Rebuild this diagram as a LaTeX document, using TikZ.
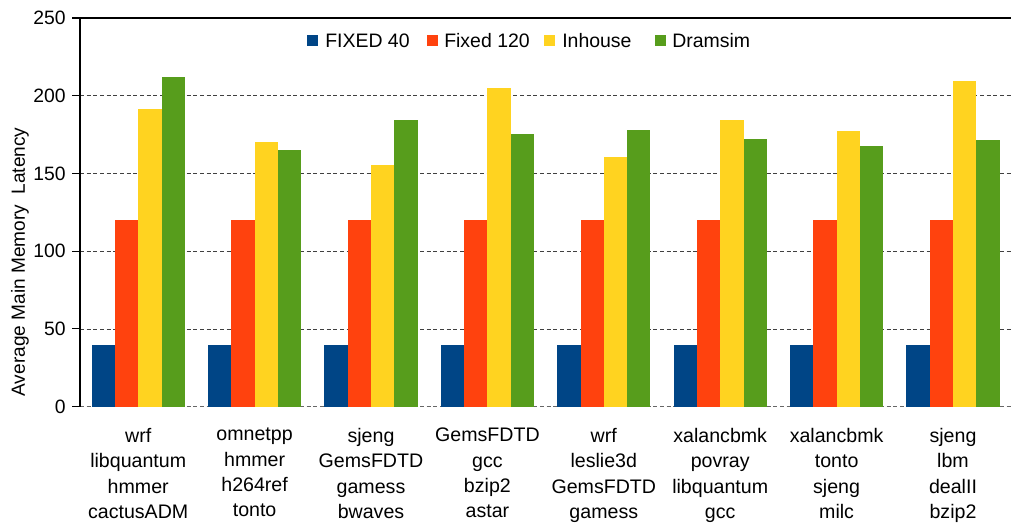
\documentclass[tikz,border=0pt]{standalone}
\usepackage{fontspec}
\setmainfont{Liberation Sans}
\definecolor{cA}{HTML}{004586}
\definecolor{cB}{HTML}{FF420E}
\definecolor{cC}{HTML}{FFD320}
\definecolor{cD}{HTML}{579D1C}
\begin{document}
\begin{tikzpicture}[x=0.75pt,y=-0.75pt,
  grid/.style={densely dashed,black!75,line width=0.5pt},
  ticklab/.style={anchor=east,font=\fontsize{14.5}{16}\selectfont,inner sep=0pt},
  catlab/.style={anchor=north,align=center,font=\fontsize{14.7}{19}\selectfont,inner sep=0pt},
  leglab/.style={anchor=west,font=\fontsize{14.6}{16}\selectfont,inner sep=0pt}]
\useasboundingbox (0,0) rectangle (1013,525);
\def\yv#1{406.7-1.5548*#1}
% grid
\foreach \v in {50,100,150,200}{
  \draw[grid] (80,{\yv{\v}}) -- (1011,{\yv{\v}});
}
\draw[densely dashed,black!60,line width=0.8pt] (80,406.7) -- (1011,406.7);
\draw[black,line width=0.8pt] (80,18) -- (1011,18);
% bars
\foreach \i/\c/\d in {0/191.6/212.3,1/170.3/165.2,2/155.4/184.4,3/205.1/175.5,4/160.7/177.9,5/184.6/172.2,6/177.5/167.8,7/209.6/171.6}{
  \pgfmathsetmacro{\xs}{91.6+116.4*\i}
  \fill[cA] (\xs,406.7) rectangle ({\xs+23.3},{\yv{40}});
  \fill[cB] ({\xs+23.3},406.7) rectangle ({\xs+46.6},{\yv{120}});
  \fill[cC] ({\xs+46.6},406.7) rectangle ({\xs+69.9},{\yv{\c}});
  \fill[cD] ({\xs+69.9},406.7) rectangle ({\xs+93.2},{\yv{\d}});
}
% axis
\draw[black,line width=0.8pt] (80,18) -- (80,406.7);
\foreach \v in {0,50,100,150,200,250}{
  \draw[black,line width=0.8pt] (72,{\yv{\v}}) -- (80,{\yv{\v}});
  \node[ticklab] (t\v) at (66,{\yv{\v}}) {\v};
}
% categories
\foreach \i/\t in {0/{wrf\\libquantum\\hmmer\\cactusADM},1/{omnetpp\\hmmer\\h264ref\\tonto},2/{sjeng\\GemsFDTD\\gamess\\bwaves},3/{GemsFDTD\\gcc\\bzip2\\astar},4/{wrf\\leslie3d\\GemsFDTD\\gamess},5/{xalancbmk\\povray\\libquantum\\gcc},6/{xalancbmk\\tonto\\sjeng\\milc},7/{sjeng\\lbm\\dealII\\bzip2}}{
  \node[catlab] (c\i) at ({138.2+116.4*\i},428) {\t};
}
% y label
\node[rotate=90,font=\fontsize{14.3}{16}\selectfont,inner sep=0pt] (ylab) at (20,262) {Average Main Memory\ \ Latency};
% legend
\fill[cA] (307,35) rectangle (318,46);
\node[leglab] (l1) at (325,40.5) {FIXED 40};
\fill[cB] (427,35) rectangle (438,46);
\node[leglab] (l2) at (444,40.5) {Fixed 120};
\fill[cC] (544,35) rectangle (555,46);
\node[leglab] (l3) at (562,40.5) {Inhouse};
\fill[cD] (655,35) rectangle (666,46);
\node[leglab] (l4) at (672,40.5) {Dramsim};
\end{tikzpicture}
\end{document}
